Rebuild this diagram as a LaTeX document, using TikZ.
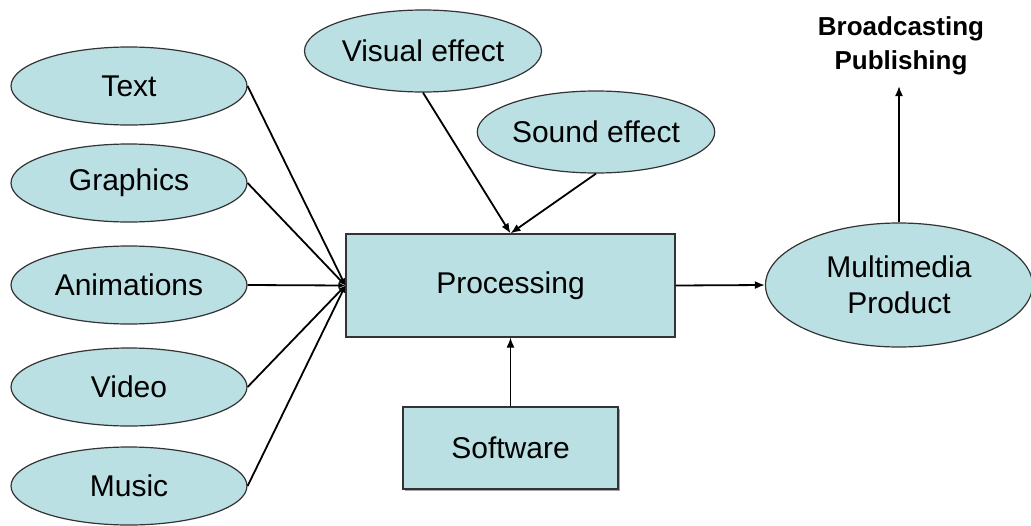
\documentclass[tikz,border=0pt]{standalone}
\usepackage{fontspec}
\setmainfont{Liberation Sans}
\usetikzlibrary{arrows.meta,shapes.geometric,shadows}
\definecolor{boxfill}{HTML}{BAE0E3}
\definecolor{edge}{HTML}{333333}
\tikzset{
  oval/.style={ellipse, draw=edge, line width=1.2pt, fill=boxfill, inner sep=0pt,
    minimum width=236pt, minimum height=78pt, font=\fontsize{30}{34}\selectfont},
  rectbox/.style={rectangle, draw=edge, line width=1.2pt, fill=boxfill, inner sep=0pt,
    font=\fontsize{30}{34}\selectfont},
  feed/.style={line width=1.8pt, -{Latex[length=7pt,width=6pt]}},
  link/.style={line width=1.8pt, -{Latex[length=10pt,width=8pt]}},
}
\begin{document}
\begin{tikzpicture}[x=1pt,y=-1pt]
\useasboundingbox (0,0) rectangle (1031,525);
% left inputs
\node[oval] (text) at (129,86) {Text};
\node[oval] (graph) at (129,183) {Graphics};
\node[oval] (anim) at (129,285) {Animations};
\node[oval] (video) at (129,387) {Video};
\node[oval] (music) at (129,486) {Music};
% effects
\node[oval, minimum width=237pt, minimum height=82pt] (vis) at (423,51) {Visual effect};
\node[oval, minimum width=235pt, minimum height=82pt] (snd) at (596,132) {Sound effect};
% processing
\node[rectbox, minimum width=329pt, minimum height=103pt] (proc) at (510.5,285.5) {Processing};
\node[rectbox, minimum width=215pt, minimum height=82pt,
  drop shadow={shadow xshift=2pt, shadow yshift=-2pt, fill=gray!70, opacity=1}] (soft) at (510.5,448) {Software};
% product
\node[oval, minimum width=267pt, minimum height=124pt, align=center,
  font=\fontsize{30}{36}\selectfont] (prod) at (899,285) {Multimedia\\Product};
\node[align=center, font=\bfseries\fontsize{26}{34}\selectfont, inner sep=0pt] (bp) at (901,46) {Broadcasting\\Publishing};
\coordinate (bptip) at (prod.north |- 0,86);
% connectors
\foreach \n in {text,graph,anim,video,music}
  \draw[feed] (\n.east) -- (proc.west);
\draw[link] (vis.south) -- (proc.north);
\draw[link] (snd.south) -- (proc.north);
\draw[line width=1.2pt, -{Latex[length=10pt,width=8pt]}] (soft.north) -- (proc.south);
\draw[link] (proc.east) -- (prod.west);
\draw[link] (prod.north) -- (bptip);
\end{tikzpicture}
\end{document}
